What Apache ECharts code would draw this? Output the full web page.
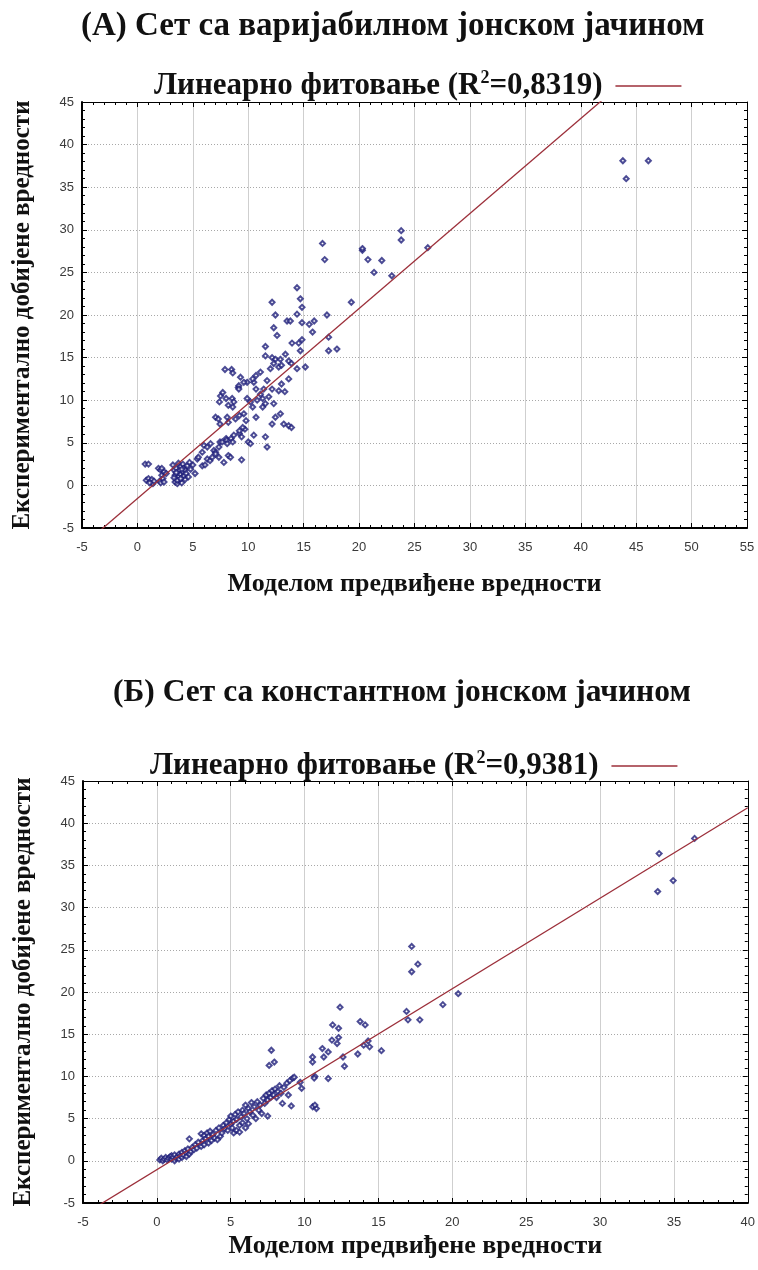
<!DOCTYPE html>
<html><head><meta charset="utf-8">
<script src="https://cdn.jsdelivr.net/npm/echarts@6/dist/echarts.min.js"></script>
<style>html,body{margin:0;padding:0;background:#fff}#c{width:758px;height:1270px}</style>
</head><body><div id="c"></div>
<script>
// ---- DATA ----
const titleA = '(А) Сет са варијабилном јонском јачином';
const titleB = '(Б) Сет са константном јонском јачином';
const xName = 'Моделом предвиђене вредности';
const yName = 'Експериментално добијене вредности';
const r2A = '0,8319';
const r2B = '0,9381';
// linear fit: [slope, intercept]
const fitA = [1.115, -1.54];
const fitB = [1.072, -1.05];
const xRangeA = [-5, 55];
const yRangeA = [-5, 45];
const xRangeB = [-5, 40];
const yRangeB = [-5, 45];

// Set A: [predicted, experimental]
const pointsA_low = [
[0.7,2.5],[1.0,2.5],[0.8,0.6],[1.0,0.8],[1.2,0.4],[1.3,0.7],[1.4,0.2],[1.5,0.5],[1.1,0.3],[1.9,2.0],[2.1,1.8],[2.0,0.5],[2.2,1.2],[2.3,0.8],[2.1,0.3],[2.4,1.6],[2.6,1.4],[2.4,0.4],[2.2,2.0],
[3.2,2.4],[3.3,1.8],[3.4,1.2],[3.4,0.4],[3.5,0.8],[3.5,2.0],[3.6,1.5],[3.6,0.2],[3.7,1.0],[3.7,2.6],[3.8,0.6],[3.8,1.8],[3.9,1.3],[3.9,2.2],[4.0,0.9],[4.0,0.3],[4.1,1.6],[4.1,2.5],[4.2,1.1],[4.2,2.0],[4.3,0.7],[4.3,1.8],[4.4,1.4],[4.5,2.3],[4.6,1.0],[4.7,2.7],[4.8,1.9],[5.0,2.4],[5.2,1.4],[3.5,1.5],[3.6,0.6],[3.9,0.8],[4.0,1.9],[3.3,0.9]
];
const pointsA_mid = [
[5.4,3.1],[5.5,3.3],[5.85,2.3],[5.85,3.9],[6.0,4.7],[6.1,2.4],[6.3,3.1],[6.3,4.5],[6.55,2.9],[6.6,4.9],[6.75,3.3],[6.9,4.1],[7.05,3.9],[7.05,3.7],[7.35,4.5],[7.35,3.3],[7.45,5.1],[7.65,5.1],[7.8,2.7],[8.0,5.5],[8.05,5.3],[8.1,4.9],[8.2,3.5],[8.4,3.3],[8.45,5.5],[8.6,5.1],[8.7,5.9],[9.2,6.1],[9.4,5.7],[9.4,3.0],[9.7,6.6],[10.0,5.1],[10.2,4.9],[10.5,5.9],[11.55,5.7],[11.7,4.5],
[7.05,8.0],[7.3,7.8],[7.45,7.2],[8.1,8.0],[8.2,7.4],[8.85,7.8],[9.2,8.2],[9.6,8.4],[9.8,7.6],[10.7,8.0],[9.5,6.8],[9.2,6.4],
[7.5,10.5],[7.7,10.9],[8.0,10.2],[7.4,9.8],[8.55,10.2],[8.7,9.8],[8.2,9.4],[8.6,9.2],[9.9,10.2],[10.2,9.8],[10.4,9.2],[10.8,10.0],[11.3,10.2],[11.3,9.2],[11.1,10.7],[10.7,11.3],[11.4,11.3],[9.1,11.5],
[7.9,13.6],[8.5,13.6],[8.6,13.2],[9.3,12.7],[9.9,12.1],[10.5,12.1],[9.6,12.1],[10.4,12.5],[10.7,12.9],[11.1,13.3],[9.15,11.7],[9.15,11.3],
[11.55,9.6],[11.85,10.4],[11.7,12.3],[12.15,11.3],[13.0,11.9],[13.3,11.0],[12.75,11.1],[12.3,9.6],[12.9,8.4],[12.45,8.0],[12.15,7.2],[13.2,7.2],[13.65,7.0],[13.9,6.8]
];
const pointsA_high = [
[12.15,21.5],[12.45,20.0],[12.3,18.5],[12.6,17.6],[11.55,16.3],[11.55,15.2],[12.15,15.0],[12.45,14.8],[12.3,14.3],[12.9,14.8],[12.75,13.9],[12.0,13.7],[13.0,14.1],[13.35,15.4],[13.65,14.6],[13.9,14.3],[13.65,12.5],[13.5,19.3],[13.8,19.3],[13.95,16.7],[14.4,23.2],[14.7,21.9],[14.85,20.9],[14.4,20.1],[14.55,16.7],[14.7,15.8],[14.85,17.1],[14.4,13.7],[15.15,13.9],[14.85,19.1],[15.5,18.9],[15.8,18.0],[15.95,19.3],[17.1,20.0],[17.25,17.4],[17.25,15.8],[18.0,16.0],[19.3,21.5],
[16.7,28.4],[16.9,26.5],[20.3,27.6],[20.3,27.8],[20.8,26.5],[21.35,25.0],[22.05,26.4],[22.95,24.6],[23.8,29.9],[23.8,28.8],[26.2,27.9],[43.8,38.1],[44.1,36.0],[46.1,38.1]
];

// Set B: [predicted, experimental]
const pointsB_band = [
[0.2,0.1],[0.3,0.3],[0.4,0.0],[0.5,0.2],[0.6,0.4],[0.7,0.1],[0.8,0.3],[0.9,0.5],[1.0,0.2],[1.0,0.6],[1.1,0.4],[1.2,0.0],[1.2,0.7],[1.3,0.3],[1.4,0.5],[1.5,0.8],[1.5,0.2],[1.6,0.6],[1.7,1.0],[1.7,0.4],[1.8,0.7],[1.9,1.2],[2.0,0.9],[2.0,0.5],[2.1,1.4],[2.2,0.8],[2.2,2.6],[2.3,1.1],[2.4,1.6],[2.5,1.3],[2.6,1.9],[2.7,1.5],[2.8,2.2],[3.0,1.7],[3.0,3.2],[3.1,2.4],[3.2,3.0],[3.2,1.9],[3.3,2.6],[3.4,3.3],[3.5,2.1],[3.5,2.9],[3.6,3.5],[3.7,2.4],[3.8,3.1],[3.9,2.7],[4.0,3.6],[4.1,2.5],[4.2,3.9],[4.3,2.9],[4.4,3.3],[4.5,4.2],[4.6,3.8],[4.7,4.5],[4.8,3.6],[4.9,4.9],[5.0,4.3],[5.0,5.3],[5.1,3.9],[5.2,4.7],[5.2,3.3],[5.3,5.5],[5.4,3.6],[5.4,4.9],[5.5,5.8],[5.6,4.2],[5.6,3.4],[5.7,5.2],[5.8,6.0],[5.8,4.5],[5.9,5.6],[6.0,6.6],[6.0,3.9],[6.1,5.0],[6.2,6.2],[6.2,4.4],[6.3,5.8],[6.4,6.9],[6.5,5.4],[6.6,6.4],[6.7,5.0],[6.8,7.0],[6.9,6.0],[7.0,6.6],[7.1,5.6],[7.2,7.4],[7.3,6.8],[7.4,7.8],[7.5,5.3],[7.5,7.2],[7.6,8.0],[7.7,7.5],[7.8,8.3],[7.9,7.8],[8.0,8.5],[8.1,7.5],[8.2,8.2],[8.3,8.9],[8.4,8.0],[8.5,6.8],[8.6,8.7],[8.8,9.2],[8.9,7.8],[9.0,9.5],[9.1,6.5],[9.2,9.8],[9.3,9.9],[9.7,9.3],[9.8,8.6]
];
const pointsB_out = [
[7.6,11.3],[7.75,13.1],[7.95,11.7],[10.54,12.3],[10.54,11.7],[10.7,10.0],[10.65,9.8],[10.55,6.4],[10.8,6.2],[10.7,6.6],[11.2,13.3],[11.3,12.3],[11.6,12.9],[11.6,9.75],[11.9,16.1],[11.85,14.3],[12.3,15.7],[12.2,13.9],[12.3,14.6],[12.4,18.2],[12.6,12.3],[12.7,11.2],[13.6,12.65],[13.76,16.5],[14.1,16.1],[14.0,13.7],[14.4,13.5],[14.3,14.2],[15.2,13.05],[16.9,17.7],[17.0,16.7],[17.8,16.7],[17.25,25.4],[17.67,23.3],[17.25,22.4],[19.36,18.5],[20.4,19.8],[34.0,36.4],[33.9,31.9],[34.95,33.2],[36.4,38.2]
];

// ---- CHART ----
const serif = '"Liberation Serif","DejaVu Serif",serif';
const sans = '"Liberation Sans",Arial,sans-serif';
const ptColor = '#1f1f7a';
const lineColor = '#9c2f3a';

function fitLine(fit, xr){ return [[xr[0], fit[0]*xr[0]+fit[1]], [xr[1], fit[0]*xr[1]+fit[1]]]; }

function axesFor(grid, xr, yr, xGap){
  const common = {
    type:'value', gridIndex:grid, interval:5,
    axisLine:{show:true, onZero:false, lineStyle:{color:'#000', width:2}},
    axisTick:{show:true, inside:true, length:5, lineStyle:{color:'#000', width:1}},
    minorTick:{show:true, splitNumber:5, length:3, lineStyle:{color:'#000', width:1}},
  };
  const x1 = Object.assign({}, common, {min:xr[0], max:xr[1], position:'bottom',
    axisLabel:{color:'#3a3a3a', fontFamily:sans, fontSize:13, margin:13},
    splitLine:{show:true, lineStyle:{color:'#cfcfcf', type:'solid', width:1}},
    name:xName, nameLocation:'middle', nameGap:xGap,
    nameTextStyle:{fontFamily:serif, fontWeight:'bold', fontSize:26, color:'#111'}});
  const x2 = Object.assign({}, common, {min:xr[0], max:xr[1], position:'top',
    axisLine:{show:true, onZero:false, lineStyle:{color:'#000', width:1}},
    axisLabel:{show:false}, splitLine:{show:false}});
  const y1 = Object.assign({}, common, {min:yr[0], max:yr[1], position:'left',
    axisLabel:{color:'#3a3a3a', fontFamily:sans, fontSize:13, margin:8},
    splitLine:{show:true, lineStyle:{color:'#a8a8a8', type:[1,2], width:1}},
    name:yName, nameLocation:'middle', nameGap:47, nameRotate:90,
    nameTextStyle:{fontFamily:serif, fontWeight:'bold', fontSize:25, color:'#111'}});
  const y2 = Object.assign({}, common, {min:yr[0], max:yr[1], position:'right',
    axisLine:{show:true, onZero:false, lineStyle:{color:'#000', width:1}},
    axisLabel:{show:false}, splitLine:{show:false}});
  return {x:[x1,x2], y:[y1,y2]};
}
const axA = axesFor(0, xRangeA, yRangeA, 43);
const axB = axesFor(1, xRangeB, yRangeB, 30);

const legendRich = {
  t:{fontFamily:serif, fontWeight:'bold', fontSize:31, color:'#111', lineHeight:34},
  s:{fontFamily:serif, fontWeight:'bold', fontSize:18, color:'#111', verticalAlign:'top', lineHeight:34, padding:[0,0,12,0]}
};
const legendText = {fitA:'{t|Линеарно фитовање (R}{s|2}{t|=' + r2A + ') }', fitB:'{t|Линеарно фитовање (R}{s|2}{t|=' + r2B + ') }'};
function legendFor(name, top, left){
  return {data:[name], left:left, top:top, align:'right', icon:'rect', itemWidth:66, itemHeight:1.5,
    formatter:(n)=>legendText[n], textStyle:{rich:legendRich}, selectedMode:false};
}
function scat(name, data, xi, yi){
  return {type:'scatter', name:name, xAxisIndex:xi, yAxisIndex:yi, data:data, symbol:'emptyDiamond', symbolSize:5,
    itemStyle:{color:ptColor, borderColor:ptColor, borderWidth:1}, silent:true, z:3};
}

const chart = echarts.init(document.getElementById('c'), null, {renderer:'canvas'});
chart.setOption({
  backgroundColor:'#fff',
  animation:false,
  title:[
    {text:titleA, left:76, top:5, textStyle:{fontFamily:serif, fontWeight:'bold', fontSize:33, color:'#111'}},
    {text:titleB, left:108, top:672, textStyle:{fontFamily:serif, fontWeight:'bold', fontSize:31.5, color:'#111'}}
  ],
  legend:[legendFor('fitA', 64, 149), legendFor('fitB', 744, 145)],
  grid:[
    {left:82, top:102, width:665, height:426},
    {left:83, top:781, width:667, height:422}
  ],
  xAxis:[axA.x[0], axA.x[1], axB.x[0], axB.x[1]],
  yAxis:[axA.y[0], axA.y[1], axB.y[0], axB.y[1]],
  series:[
    scat('A1', pointsA_low, 0, 0), scat('A2', pointsA_mid, 0, 0), scat('A3', pointsA_high, 0, 0),
    {type:'line', name:'fitA', xAxisIndex:0, yAxisIndex:0, data:fitLine(fitA, xRangeA), showSymbol:false, symbol:'none', clip:true,
      lineStyle:{color:lineColor, width:1.3}, itemStyle:{color:lineColor}, z:4, silent:true},
    scat('B1', pointsB_band, 2, 2), scat('B2', pointsB_out, 2, 2),
    {type:'line', name:'fitB', xAxisIndex:2, yAxisIndex:2, data:fitLine(fitB, xRangeB), showSymbol:false, symbol:'none', clip:true,
      lineStyle:{color:lineColor, width:1.3}, itemStyle:{color:lineColor}, z:4, silent:true}
  ]
});
</script></body></html>
